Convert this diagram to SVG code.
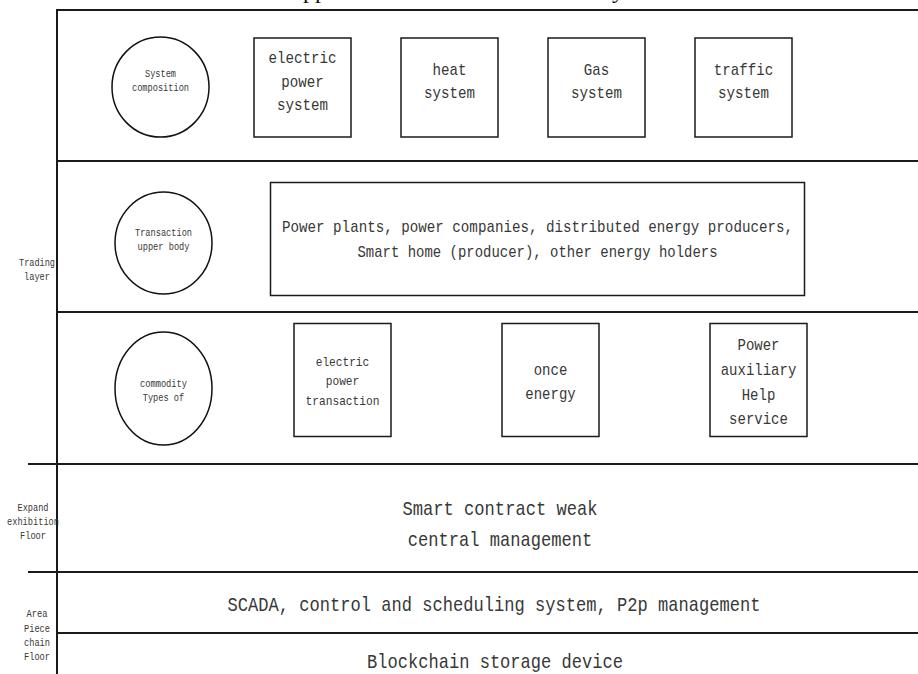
<svg xmlns="http://www.w3.org/2000/svg" width="918" height="674" viewBox="0 0 918 674">
<style>
  .bg{fill:#fff}
  .frame{stroke:#1a1a1a;stroke-width:2;fill:none}
  .box{fill:#fff;stroke:#1a1a1a;stroke-width:1.5}
  .ell{fill:#fff;stroke:#111;stroke-width:1.5}
  text{font-family:"Liberation Mono","DejaVu Sans Mono",monospace;fill:#383838;text-anchor:middle}
  .s{font-size:10.5px}
  .m{font-size:17px}
  .n{font-size:13.5px}
  .l{font-size:21px}
  .title{font-family:"Liberation Serif",serif;font-size:24px;fill:#111;text-anchor:start}
</style>
<rect class="bg" x="0" y="0" width="918" height="674"/>

<g id="title">
  <text class="title" x="303" y="-2">pp</text>
  <text class="title" x="612" y="-2">y</text>
</g>

<g id="frame">
  <path class="frame" d="M57,674 V10 H918"/>
  <path class="frame" d="M57,161 H918"/>
  <path class="frame" d="M57,312 H918"/>
  <path class="frame" d="M28,464 H918"/>
  <path class="frame" d="M28,572 H918"/>
  <path class="frame" d="M57,633 H918"/>
</g>

<g id="layer-labels">
  <text class="s" x="37" y="266" textLength="36" lengthAdjust="spacingAndGlyphs">Trading</text>
  <text class="s" x="37" y="280" textLength="26" lengthAdjust="spacingAndGlyphs">layer</text>
  <text class="s" x="33" y="511" textLength="31" lengthAdjust="spacingAndGlyphs">Expand</text>
  <text class="s" x="33" y="525" textLength="52" lengthAdjust="spacingAndGlyphs">exhibition</text>
  <text class="s" x="33" y="539" textLength="26" lengthAdjust="spacingAndGlyphs">Floor</text>
  <text class="s" x="37" y="617" textLength="21" lengthAdjust="spacingAndGlyphs">Area</text>
  <text class="s" x="37" y="632" textLength="26" lengthAdjust="spacingAndGlyphs">Piece</text>
  <text class="s" x="37" y="646" textLength="26" lengthAdjust="spacingAndGlyphs">chain</text>
  <text class="s" x="37" y="660" textLength="26" lengthAdjust="spacingAndGlyphs">Floor</text>
</g>

<g id="system-composition">
  <ellipse class="ell" cx="160.5" cy="87" rx="48.5" ry="50"/>
  <text class="s" x="160.5" y="77" textLength="31" lengthAdjust="spacingAndGlyphs">System</text>
  <text class="s" x="160.5" y="91" textLength="57" lengthAdjust="spacingAndGlyphs">composition</text>
</g>
<g id="electric-power-system">
  <rect class="box" x="254" y="38" width="97" height="99"/>
  <text class="m" x="302.5" y="63" textLength="68" lengthAdjust="spacingAndGlyphs">electric</text>
  <text class="m" x="302.5" y="87" textLength="42.5" lengthAdjust="spacingAndGlyphs">power</text>
  <text class="m" x="302.5" y="110" textLength="51" lengthAdjust="spacingAndGlyphs">system</text>
</g>
<g id="heat-system">
  <rect class="box" x="401" y="38" width="97" height="99"/>
  <text class="m" x="449.5" y="75" textLength="34" lengthAdjust="spacingAndGlyphs">heat</text>
  <text class="m" x="449.5" y="98" textLength="51" lengthAdjust="spacingAndGlyphs">system</text>
</g>
<g id="gas-system">
  <rect class="box" x="548" y="38" width="97" height="99"/>
  <text class="m" x="596.5" y="75" textLength="25.5" lengthAdjust="spacingAndGlyphs">Gas</text>
  <text class="m" x="596.5" y="98" textLength="51" lengthAdjust="spacingAndGlyphs">system</text>
</g>
<g id="traffic-system">
  <rect class="box" x="695" y="38" width="97" height="99"/>
  <text class="m" x="743.5" y="75" textLength="59.5" lengthAdjust="spacingAndGlyphs">traffic</text>
  <text class="m" x="743.5" y="98" textLength="51" lengthAdjust="spacingAndGlyphs">system</text>
</g>

<g id="transaction-upper-body">
  <ellipse class="ell" cx="163.5" cy="243" rx="48.5" ry="51"/>
  <text class="s" x="163.5" y="236" textLength="57" lengthAdjust="spacingAndGlyphs">Transaction</text>
  <text class="s" x="163.5" y="250" textLength="52" lengthAdjust="spacingAndGlyphs">upper body</text>
</g>
<g id="participants">
  <rect class="box" x="270.5" y="182.5" width="534" height="113"/>
  <text class="m" x="537.5" y="232" textLength="511" lengthAdjust="spacingAndGlyphs">Power plants, power companies, distributed energy producers,</text>
  <text class="m" x="537.5" y="257" textLength="360" lengthAdjust="spacingAndGlyphs">Smart home (producer), other energy holders</text>
</g>

<g id="commodity-types">
  <ellipse class="ell" cx="163.5" cy="388.5" rx="48.5" ry="56.5"/>
  <text class="s" x="163.5" y="387" textLength="47" lengthAdjust="spacingAndGlyphs">commodity</text>
  <text class="s" x="163.5" y="401" textLength="41.5" lengthAdjust="spacingAndGlyphs">Types of</text>
</g>
<g id="electric-power-transaction">
  <rect class="box" x="294" y="323.5" width="97" height="113"/>
  <text class="n" x="342.5" y="366" textLength="53.5" lengthAdjust="spacingAndGlyphs">electric</text>
  <text class="n" x="342.5" y="385" textLength="33.5" lengthAdjust="spacingAndGlyphs">power</text>
  <text class="n" x="342.5" y="405" textLength="74" lengthAdjust="spacingAndGlyphs">transaction</text>
</g>
<g id="once-energy">
  <rect class="box" x="502" y="323.5" width="97" height="113"/>
  <text class="m" x="550.5" y="375" textLength="33.6" lengthAdjust="spacingAndGlyphs">once</text>
  <text class="m" x="550.5" y="399" textLength="50.4" lengthAdjust="spacingAndGlyphs">energy</text>
</g>
<g id="power-auxiliary-service">
  <rect class="box" x="710" y="323.5" width="97" height="113"/>
  <text class="m" x="758.5" y="350" textLength="42" lengthAdjust="spacingAndGlyphs">Power</text>
  <text class="m" x="758.5" y="375" textLength="75.6" lengthAdjust="spacingAndGlyphs">auxiliary</text>
  <text class="m" x="758.5" y="400" textLength="33.6" lengthAdjust="spacingAndGlyphs">Help</text>
  <text class="m" x="758.5" y="424" textLength="58.8" lengthAdjust="spacingAndGlyphs">service</text>
</g>

<g id="smart-contract">
  <text class="l" x="500" y="515" textLength="195" lengthAdjust="spacingAndGlyphs">Smart contract weak</text>
  <text class="l" x="500" y="546" textLength="184.5" lengthAdjust="spacingAndGlyphs">central management</text>
</g>
<g id="scada">
  <text class="l" x="494" y="611" textLength="533" lengthAdjust="spacingAndGlyphs">SCADA, control and scheduling system, P2p management</text>
</g>
<g id="blockchain-storage">
  <text class="l" x="495" y="668" textLength="256" lengthAdjust="spacingAndGlyphs">Blockchain storage device</text>
</g>
</svg>
